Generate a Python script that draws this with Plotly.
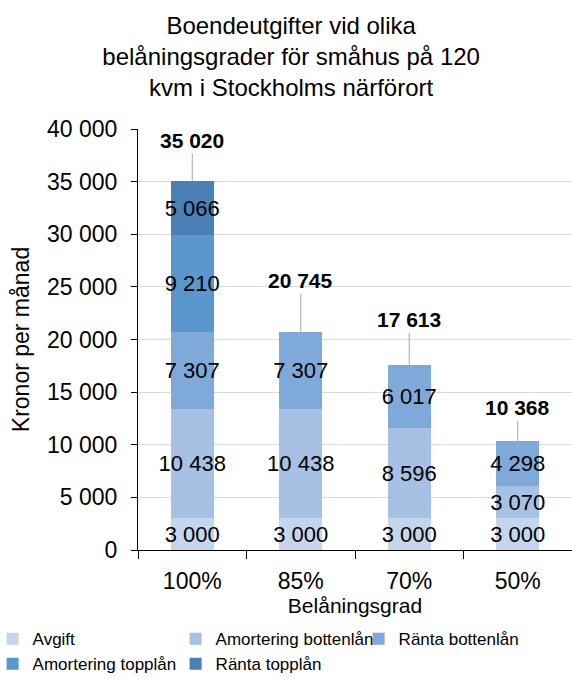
import plotly.graph_objects as go

categories = ["100%", "85%", "70%", "50%"]
avgift = [3000, 3000, 3000, 3000]
amortering_botten = [10438, 10438, 8596, 3070]
ranta_botten = [7307, 7307, 6017, 4298]
amortering_topp = [9210, None, None, None]
ranta_topp = [5066, None, None, None]
totals = [35020, 20745, 17613, 10368]

series_names = ["Avgift", "Amortering bottenlån", "Ränta bottenlån",
                "Amortering topplån", "Ränta topplån"]
series_values = [avgift, amortering_botten, ranta_botten, amortering_topp, ranta_topp]
colors = ["#C5D6EC", "#A6C1E4", "#7FA9D9", "#5B97CD", "#4A80B6"]

# pixel offsets of the total labels above the bar tops (style only)
label_offsets = [-41, -51, -45, -33]

FONT = "Liberation Sans, Arial, sans-serif"

fig = go.Figure()
for name, vals, col in zip(series_names, series_values, colors):
    fig.add_trace(go.Bar(
        x=categories, y=vals, name=name,
        marker=dict(color=col, line=dict(width=0)),
        texttemplate="%{y:,d}", textposition="inside", textangle=0,
        insidetextanchor="middle", constraintext="none",
        textfont=dict(family=FONT, size=22, color="black"),
        hoverinfo="skip",
    ))

for cat, tot, off in zip(categories, totals, label_offsets):
    fig.add_annotation(
        x=cat, y=tot, text=f"<b>{tot:,d}</b>".replace(",", " "),
        showarrow=True, arrowhead=0, arrowwidth=1, arrowcolor="#A6A6A6",
        ax=0, ay=off, font=dict(family=FONT, size=21, color="black"),
    )

fig.update_layout(
    width=572, height=680,
    barmode="stack", bargap=0.6,
    separators=", ",
    paper_bgcolor="white", plot_bgcolor="white",
    margin=dict(l=138, r=0, t=129, b=130, autoexpand=False),
    font=dict(family=FONT, color="black"),
    uniformtext=dict(minsize=22, mode="show"),
    title=dict(
        text="Boendeutgifter vid olika<br>belåningsgrader för småhus på 120<br>kvm i Stockholms närförort",
        x=0.509, xref="container", xanchor="center",
        y=0.950, yref="container", yanchor="top",
        font=dict(family=FONT, size=24, color="black"),
    ),
    xaxis=dict(
        title=dict(text="Belåningsgrad", font=dict(family=FONT, size=21), standoff=3),
        tickfont=dict(family=FONT, size=23),
        showline=True, linecolor="black", linewidth=1,
        ticks="outside", tickson="boundaries", ticklen=8, tickcolor="black",
        ticklabelstandoff=10,
        showgrid=False, automargin=False,
    ),
    yaxis=dict(
        title=dict(text="Kronor per månad", font=dict(family=FONT, size=23), standoff=10),
        tickfont=dict(family=FONT, size=23),
        range=[0, 40000], dtick=5000, tickformat=",d",
        showline=True, linecolor="black", linewidth=1,
        ticks="outside", ticklen=6, tickcolor="black",
        ticklabelstandoff=9,
        showgrid=True, gridcolor="#D9D9D9", gridwidth=1,
        zeroline=False, automargin=False,
    ),
    legend=dict(
        orientation="h", xref="paper", yref="paper",
        x=-0.335, xanchor="left", y=-0.169, yanchor="top",
        font=dict(family=FONT, size=17), entrywidth=138, entrywidthmode="pixels",
        traceorder="normal", itemwidth=30,
    ),
    showlegend=True,
)

fig.write_html("out.html", config={"displayModeBar": False},
               post_script="document.body.style.margin='0';")
